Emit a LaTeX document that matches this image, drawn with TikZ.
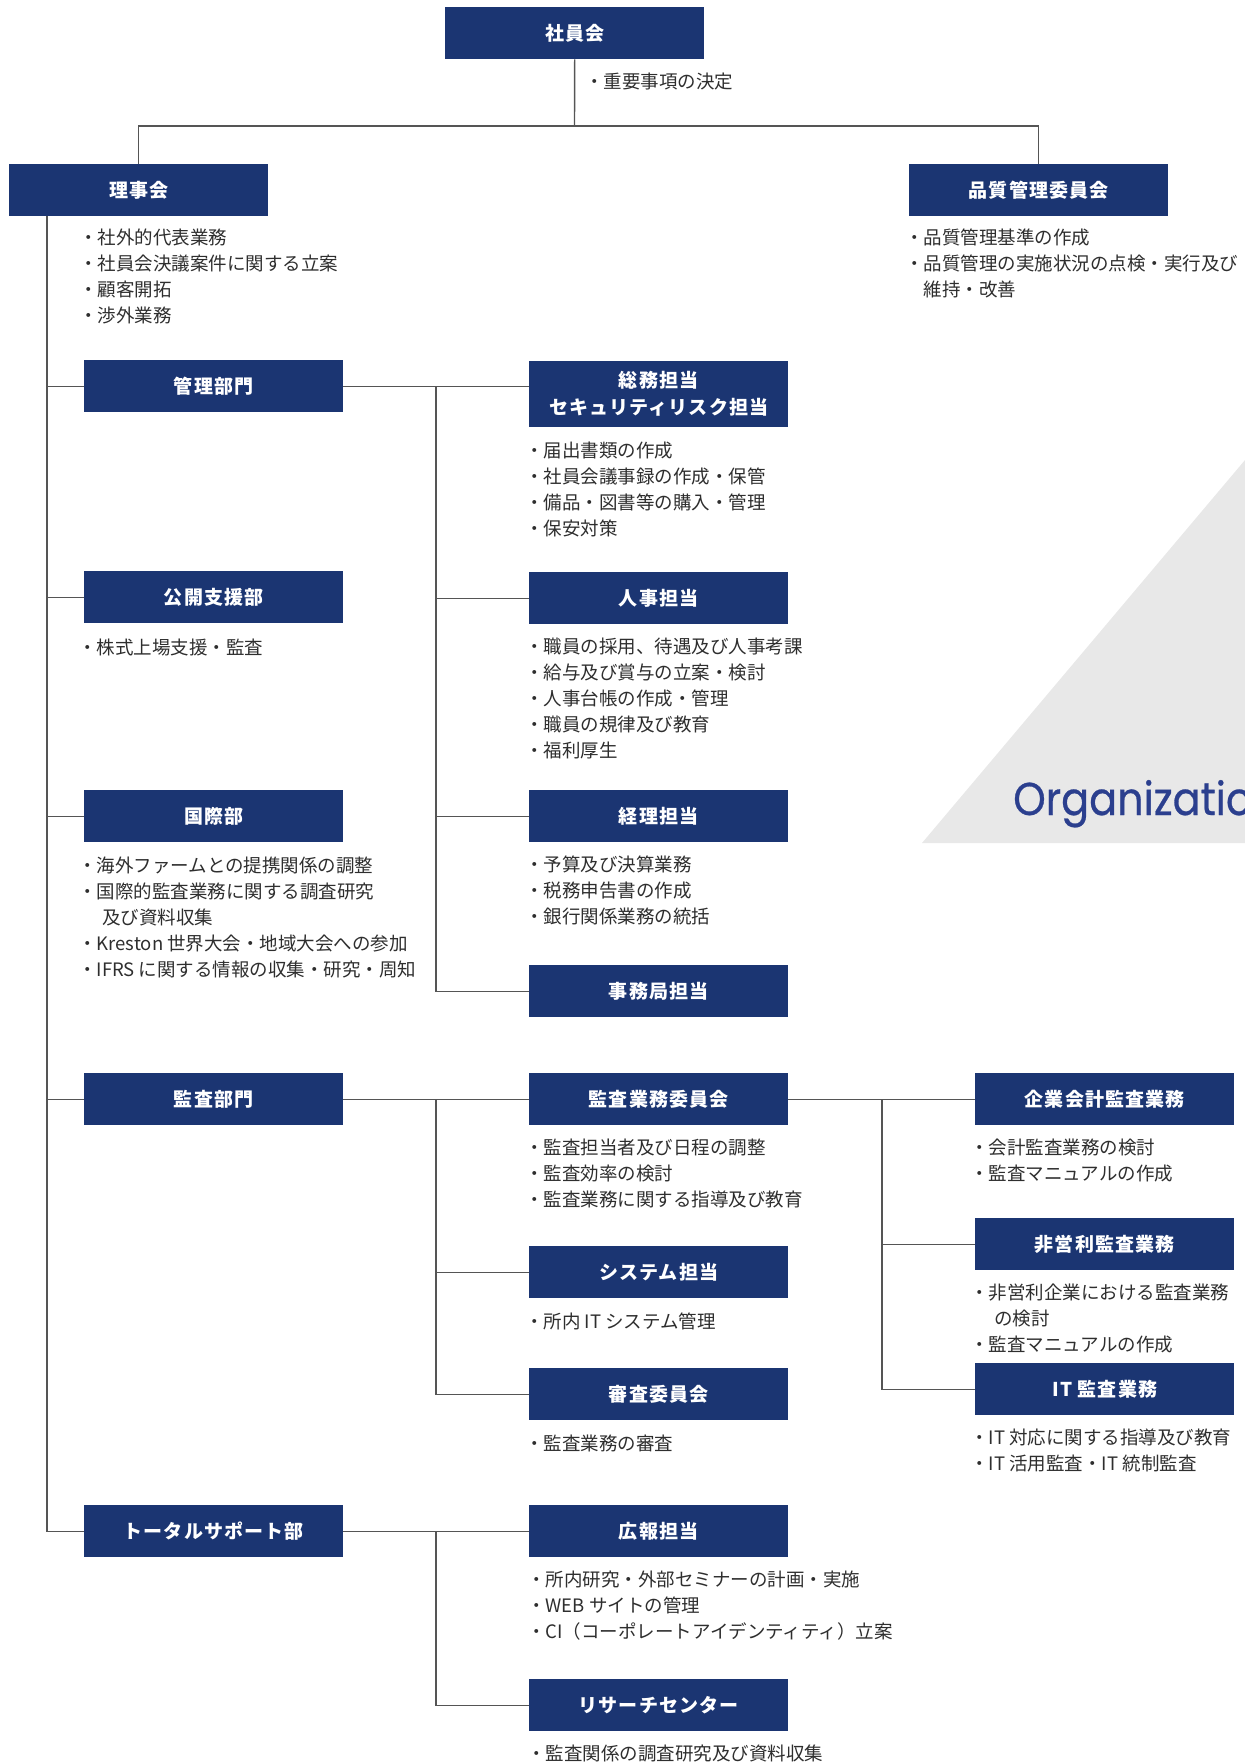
\documentclass[tikz,border=0pt]{standalone}
\usepackage{fontspec}
\setmainfont{Noto Sans CJK JP}
\newfontfamily\boxfont{Noto Sans CJK JP}[LetterSpace=6]
\newfontfamily\orgfont{Poppins}[FakeStretch=0.9,FakeBold=0.6]
\definecolor{navy}{HTML}{1B3572}
\definecolor{textgray}{HTML}{2E2E2E}
\definecolor{linegray}{HTML}{555555}
\definecolor{trigray}{HTML}{E8E8E8}
\definecolor{orgblue}{HTML}{2B3F8E}
\newcommand\blist[1]{\begin{tabular}[t]{@{}l@{}}#1\end{tabular}}
\newcommand\cont{\hspace*{24pt}}
\tikzset{
  box/.style={fill=navy, text=white, minimum width=259pt, minimum height=52pt,
    inner sep=0pt, anchor=north west, align=center,
    font=\boxfont\bfseries\fontsize{19}{27}\selectfont},
  txt/.style={anchor=base west, inner sep=0pt, text=textgray,
    font=\fontsize{18.5}{26}\selectfont},
  conn/.style={draw=linegray, line width=1.4pt},
}
\begin{document}
\begin{tikzpicture}[x=1pt, y=-1pt]
\useasboundingbox (0,0) rectangle (1245,1762);
\clip (0,0) rectangle (1245,1762);
% background triangle and title
\fill[trigray] (922,843) -- (1245,460) -- (1245,843) -- cycle;
\node[anchor=base west, inner sep=0pt, text=orgblue, font=\orgfont\fontsize{46}{46}\selectfont] (org) at (1013,815) {Organization};

% top level
\node[box] (shain) at (445,7) {社員会};
\node[txt] (shaintxt) at (585,88) {\blist{・重要事項の決定}};
\node[box] (riji) at (9,164) {理事会};
\node[txt] (rijitxt) at (79,244) {\blist{・社外的代表業務\\・社員会決議案件に関する立案\\・顧客開拓\\・渉外業務}};
\node[box] (hin) at (909,164) {品質管理委員会};
\node[txt] (hintxt) at (905,244) {\blist{・品質管理基準の作成\\・品質管理の実施状況の点検・実行及び\\\phantom{・}維持・改善}};

% left column
\node[box] (kanri) at (84,360) {管理部門};
\node[box] (koukai) at (84,571) {公開支援部};
\node[txt] (koukaitxt) at (78,654) {\blist{・株式上場支援・監査}};
\node[box] (kokusai) at (84,790) {国際部};
\node[txt] (kokusaitxt) at (78,872) {\blist{・海外ファームとの提携関係の調整\\・国際的監査業務に関する調査研究\\\cont 及び資料収集\\・Kreston 世界大会・地域大会への参加\\・IFRS に関する情報の収集・研究・周知}};
\node[box] (kansa) at (84,1073) {監査部門};
\node[box] (total) at (84,1505) {トータルサポート部};

% middle column
\node[box, minimum height=66pt] (soumu) at (529,361) {総務担当\\セキュリティリスク担当};
\node[txt] (soumutxt) at (525,457) {\blist{・届出書類の作成\\・社員会議事録の作成・保管\\・備品・図書等の購入・管理\\・保安対策}};
\node[box] (jinji) at (529,572) {人事担当};
\node[txt] (jinjitxt) at (525,653) {\blist{・職員の採用、待遇及び人事考課\\・給与及び賞与の立案・検討\\・人事台帳の作成・管理\\・職員の規律及び教育\\・福利厚生}};
\node[box] (keiri) at (529,790) {経理担当};
\node[txt] (keiritxt) at (525,871) {\blist{・予算及び決算業務\\・税務申告書の作成\\・銀行関係業務の統括}};
\node[box] (jimu) at (529,965) {事務局担当};
\node[box] (kgyomu) at (529,1073) {監査業務委員会};
\node[txt] (kgyomutxt) at (525,1154) {\blist{・監査担当者及び日程の調整\\・監査効率の検討\\・監査業務に関する指導及び教育}};
\node[box] (sys) at (529,1246) {システム担当};
\node[txt] (systxt) at (525,1328) {\blist{・所内 IT システム管理}};
\node[box] (shinsa) at (529,1368) {審査委員会};
\node[txt] (shinsatxt) at (525,1450) {\blist{・監査業務の審査}};
\node[box] (kouhou) at (529,1505) {広報担当};
\node[txt] (kouhoutxt) at (527,1586) {\blist{・所内研究・外部セミナーの計画・実施\\・WEB サイトの管理\\・CI（コーポレートアイデンティティ）立案}};
\node[box] (research) at (529,1679) {リサーチセンター};
\node[txt] (researchtxt) at (527,1760) {\blist{・監査関係の調査研究及び資料収集}};

% right column
\node[box] (kigyo) at (975,1073) {企業会計監査業務};
\node[txt] (kigyotxt) at (970,1154) {\blist{・会計監査業務の検討\\・監査マニュアルの作成}};
\node[box] (hieiri) at (975,1218) {非営利監査業務};
\node[txt] (hieiritxt) at (970,1299) {\blist{・非営利企業における監査業務\\\cont の検討\\・監査マニュアルの作成}};
\node[box] (itk) at (975,1363) {IT 監査業務};
\node[txt] (itktxt) at (970,1444) {\blist{・IT 対応に関する指導及び教育\\・IT 活用監査・IT 統制監査}};

% connectors
\coordinate (bus) at (574.5,126);
\coordinate (sp) at (47,0);
\coordinate (m1) at (436,0);
\coordinate (m2) at (882,0);
\draw[conn] (shain.south) -- (bus);
\draw[conn] (riji.north) |- (bus) -| (hin.north);
\draw[conn] (sp |- riji.south) -- (sp |- total.west) -- (total.west);
\foreach \n in {kanri,koukai,kokusai,kansa} \draw[conn] (sp |- \n.west) -- (\n.west);
% kanri group
\draw[conn] (kanri.east) -- (kanri.east -| soumu.west);
\draw[conn] (m1 |- kanri.east) -- (m1 |- jimu.west) -- (jimu.west);
\draw[conn] (m1 |- jinji.west) -- (jinji.west);
\draw[conn] (m1 |- keiri.west) -- (keiri.west);
% kansa group
\draw[conn] (kansa.east) -- (kgyomu.west);
\draw[conn] (m1 |- kansa.east) -- (m1 |- shinsa.west) -- (shinsa.west);
\draw[conn] (m1 |- sys.west) -- (sys.west);
\draw[conn] (kgyomu.east) -- (kigyo.west);
\draw[conn] (m2 |- kgyomu.east) -- (m2 |- itk.west) -- (itk.west);
\draw[conn] (m2 |- hieiri.west) -- (hieiri.west);
% total support group
\draw[conn] (total.east) -- (kouhou.west);
\draw[conn] (m1 |- total.east) -- (m1 |- research.west) -- (research.west);
\end{tikzpicture}
\end{document}
